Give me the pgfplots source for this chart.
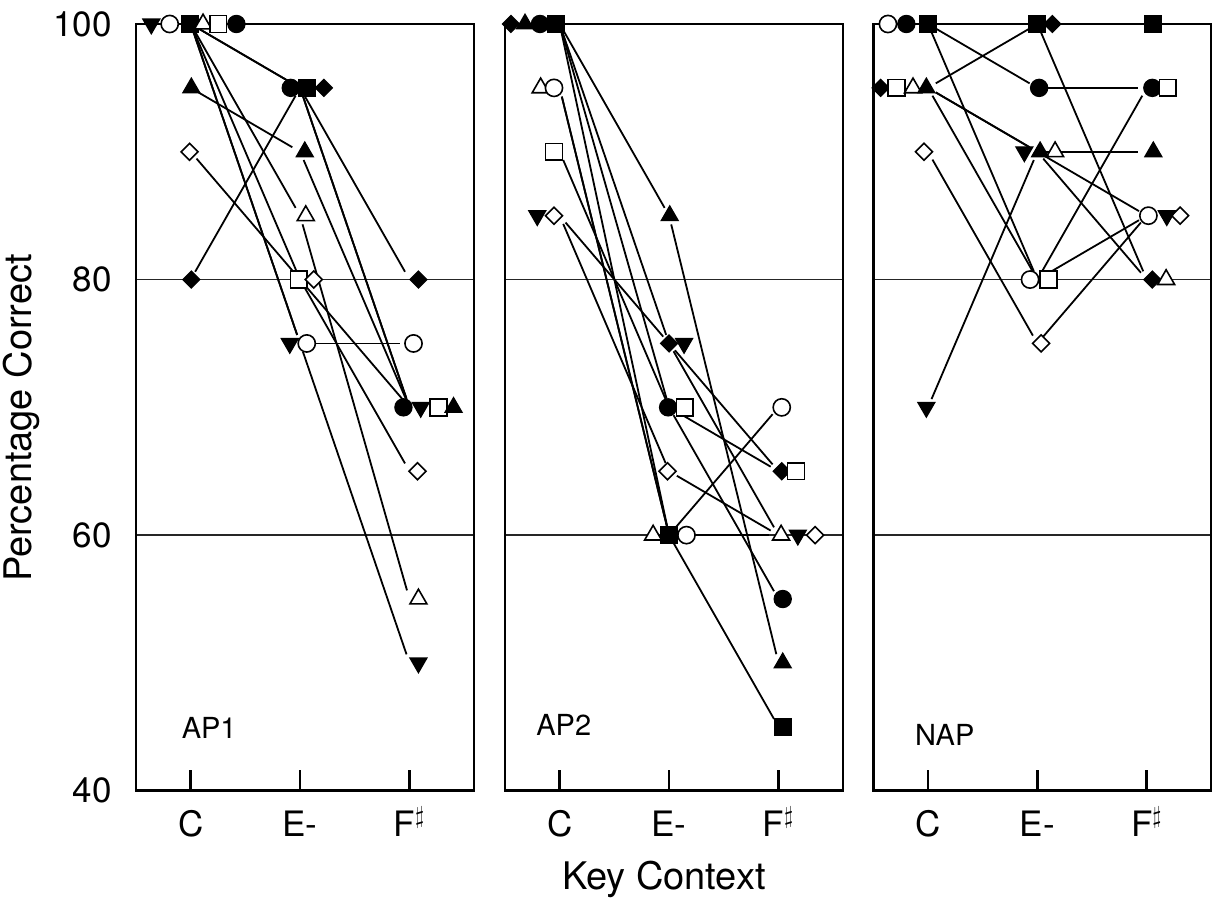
\documentclass[border=0pt]{standalone}
\usepackage{pgfplots}
\pgfplotsset{compat=1.18}
\usepackage{fontspec}
\setmainfont{TeX Gyre Heros}
\tikzset{plab/.style={anchor=base west, inner sep=0pt, font=\fontsize{14.5}{16}\selectfont}}
\pgfplotsset{
  panel/.style={
    scale only axis, width=169pt, height=383.35pt, anchor=south west,
    xmin=0.5, xmax=3.59, ymin=40, ymax=100,
    xtick={1,2,3}, xticklabels={C,E-,F$^\sharp$},
    ytick={40,60,80,100},
    ymajorgrids, grid style={line width=0.75pt, black!85},
    tick align=inside, xtick pos=left, major tick length=10.5pt,
    xtick style={line width=1.4pt, black}, ytick style={draw=none},
    axis line style={line width=1.4pt},
    clip=false,
    /pgf/number format/assume math mode=true,
    tick label style={font=\fontsize{17.5}{20}\selectfont},
    xticklabel style={anchor=base, yshift=-22.7pt, inner sep=0pt},
    yticklabel style={anchor=east, inner sep=0pt, xshift=-12pt},
    label style={font=\fontsize{19}{22}\selectfont},
  },
  seg/.style={black, line width=0.9pt, no markers, shorten <=4.5pt, shorten >=4.5pt},
  dnF/.style={only marks, mark=triangle*, mark size=4.9pt, mark options={rotate=180, fill=black, draw=black, line width=0.6pt, solid}},
  upF/.style={only marks, mark=triangle*, mark size=4.9pt, mark options={fill=black, draw=black, line width=0.6pt, solid}},
  upO/.style={only marks, mark=triangle*, mark size=4.9pt, mark options={fill=white, draw=black, line width=0.8pt, solid}},
  ciF/.style={only marks, mark=*, mark size=4.3pt, mark options={fill=black, draw=black, line width=0.6pt, solid}},
  ciO/.style={only marks, mark=*, mark size=4.3pt, mark options={fill=white, draw=black, line width=0.8pt, solid}},
  sqF/.style={only marks, mark=square*, mark size=4.2pt, mark options={fill=black, draw=black, line width=0.6pt, solid}},
  sqO/.style={only marks, mark=square*, mark size=4.2pt, mark options={fill=white, draw=black, line width=0.8pt, solid}},
  diF/.style={only marks, mark=square*, mark size=3pt, mark options={rotate=45, fill=black, draw=black, line width=0.6pt, solid}},
  diO/.style={only marks, mark=square*, mark size=3pt, mark options={rotate=45, fill=white, draw=black, line width=0.8pt, solid}},
}
\begin{document}
\begin{tikzpicture}
\useasboundingbox (0,0) rectangle (606pt,450pt);
% ---------------- AP1 ----------------
\begin{axis}[panel, at={(68pt,54.65pt)},
  ylabel={Percentage Correct},
  ylabel style={at={(axis description cs:-0.308,0.486)}, anchor=base}]
\addplot[seg] coordinates {(1,100) (2,75)};
\addplot[seg] coordinates {(2,75) (3,50)};
\addplot[seg] coordinates {(1,100) (2,75)};
\addplot[seg] coordinates {(2,75) (3,75)};
\addplot[seg] coordinates {(1,100) (2,95)};
\addplot[seg] coordinates {(2,95) (3,70)};
\addplot[seg] coordinates {(1,100) (2,85)};
\addplot[seg] coordinates {(2,85) (3,55)};
\addplot[seg] coordinates {(1,100) (2,80)};
\addplot[seg] coordinates {(2,80) (3,70)};
\addplot[seg] coordinates {(1,100) (2,95)};
\addplot[seg] coordinates {(2,95) (3,70)};
\addplot[seg] coordinates {(1,95) (2,90)};
\addplot[seg] coordinates {(2,90) (3,70)};
\addplot[seg] coordinates {(1,90) (2,80)};
\addplot[seg] coordinates {(2,80) (3,65)};
\addplot[seg] coordinates {(1,80) (2,95)};
\addplot[seg] coordinates {(2,95) (3,80)};
\addplot[dnF] coordinates {(0.640,100) (1.906,75) (3.103,70) (3.082,50)};
\addplot[ciO] coordinates {(0.808,100) (2.061,75) (3.037,75)};
\addplot[sqF] coordinates {(0.990,100) (2.061,95)};
\addplot[upO] coordinates {(1.113,100) (2.052,85) (3.082,55)};
\addplot[sqO] coordinates {(1.251,100) (1.988,80) (3.265,70)};
\addplot[ciF] coordinates {(1.418,100) (1.915,95) (2.945,70)};
\addplot[upF] coordinates {(1.006,95) (2.043,90) (3.403,70)};
\addplot[diO] coordinates {(0.990,90) (2.125,80) (3.073,65)};
\addplot[diF] coordinates {(1.006,80) (2.217,95) (3.082,80)};
\node[plab] at (axis cs:0.915,44.1) {AP1};
\end{axis}
% ---------------- AP2 ----------------
\begin{axis}[panel, at={(252.5pt,54.65pt)}, yticklabels={},
  xlabel={Key Context},
  xlabel style={at={(axis description cs:0.47,-0.1294)}, anchor=base}]
\addplot[seg] coordinates {(1,100) (2,75)};
\addplot[seg] coordinates {(2,75) (3,65)};
\addplot[seg] coordinates {(1,100) (2,85)};
\addplot[seg] coordinates {(2,85) (3,50)};
\addplot[seg] coordinates {(1,100) (2,70)};
\addplot[seg] coordinates {(2,70) (3,55)};
\addplot[seg] coordinates {(1,100) (2,60)};
\addplot[seg] coordinates {(2,60) (3,45)};
\addplot[seg] coordinates {(1,95) (2,60)};
\addplot[seg] coordinates {(2,60) (3,60)};
\addplot[seg] coordinates {(1,95) (2,60)};
\addplot[seg] coordinates {(2,60) (3,70)};
\addplot[seg] coordinates {(1,90) (2,70)};
\addplot[seg] coordinates {(2,70) (3,65)};
\addplot[seg] coordinates {(1,85) (2,75)};
\addplot[seg] coordinates {(2,75) (3,60)};
\addplot[seg] coordinates {(1,85) (2,65)};
\addplot[seg] coordinates {(2,65) (3,60)};
\addplot[diF] coordinates {(0.554,100) (2.000,75) (3.030,65)};
\addplot[upF] coordinates {(0.683,100) (2.006,85) (3.039,50)};
\addplot[ciF] coordinates {(0.820,100) (1.991,70) (3.039,55)};
\addplot[sqF] coordinates {(0.966,100) (1.997,60) (3.039,45)};
\addplot[upO] coordinates {(0.826,95) (1.854,60) (3.024,60)};
\addplot[ciO] coordinates {(0.948,95) (2.159,60) (3.030,70)};
\addplot[sqO] coordinates {(0.948,90) (2.143,70) (3.161,65)};
\addplot[dnF] coordinates {(0.795,85) (2.137,75) (3.177,60)};
\addplot[diO] coordinates {(0.948,85) (1.985,65) (3.335,60)};
\node[plab] at (axis cs:0.783,44.3) {AP2};
\end{axis}
% ---------------- NAP ----------------
\begin{axis}[panel, at={(436.65pt,54.65pt)}, yticklabels={}]
\addplot[seg] coordinates {(1,70) (2,90)};
\addplot[seg] coordinates {(2,90) (3,85)};
\addplot[seg] coordinates {(1,95) (2,90)};
\addplot[seg] coordinates {(2,90) (3,90)};
\addplot[seg] coordinates {(1,95) (2,90)};
\addplot[seg] coordinates {(2,90) (3,80)};
\addplot[seg] coordinates {(1,95) (2,100)};
\addplot[seg] coordinates {(2,100) (3,80)};
\addplot[seg] coordinates {(1,100) (2,100)};
\addplot[seg] coordinates {(2,100) (3,100)};
\addplot[seg] coordinates {(1,100) (2,95)};
\addplot[seg] coordinates {(2,95) (3,95)};
\addplot[seg] coordinates {(1,100) (2,80)};
\addplot[seg] coordinates {(2,80) (3,85)};
\addplot[seg] coordinates {(1,95) (2,80)};
\addplot[seg] coordinates {(2,80) (3,95)};
\addplot[seg] coordinates {(1,90) (2,75)};
\addplot[seg] coordinates {(2,75) (3,85)};
\addplot[ciO] coordinates {(0.634,100) (1.933,80) (3.015,85)};
\addplot[ciF] coordinates {(0.802,100) (2.016,95) (3.051,95)};
\addplot[sqF] coordinates {(1.000,100) (1.995,100) (3.060,100)};
\addplot[diF] coordinates {(0.567,95) (2.137,100) (3.051,80)};
\addplot[sqO] coordinates {(0.711,95) (2.100,80) (3.192,95)};
\addplot[upO] coordinates {(0.863,95) (2.162,90) (3.177,80)};
\addplot[upF] coordinates {(0.985,95) (2.025,90) (3.060,90)};
\addplot[diO] coordinates {(0.963,90) (2.034,75) (3.305,85)};
\addplot[dnF] coordinates {(0.985,70) (1.881,90) (3.183,85)};
\node[plab] at (axis cs:0.878,43.5) {NAP};
\end{axis}
\end{tikzpicture}
\end{document}
